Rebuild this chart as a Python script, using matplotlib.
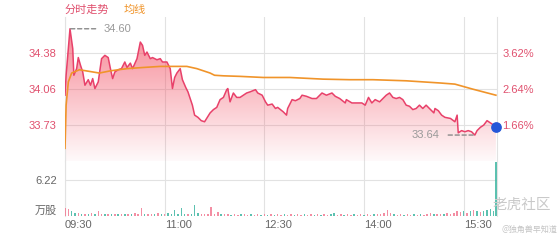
import numpy as np
import matplotlib
matplotlib.use("Agg")
import matplotlib.pyplot as plt

plt.rcParams['font.family'] = ['Liberation Sans', 'Noto Sans CJK SC', 'DejaVu Sans']

# ---------------- data ----------------
prev_close = 33.18
pct_levels = [1.66, 2.64, 3.62]          # right-axis grid labels (%)
pct_range = [0.68, 4.60]                 # visible range (%)
x_tick_min = [0, 90, 180, 270, 360]
x_tick_labels = ["09:30", "11:00", "12:30", "14:00", "15:30"]
session_len = 390
vol_tick = 6.22
vol_top = 9.5

time_min = [0, 1, 4.5, 7, 8, 10.5, 12, 14, 16, 18, 21, 23, 25, 27, 30, 33, 36, 39, 41, 43,
            45, 48, 51, 54, 56, 59, 61, 65, 68, 70, 72, 74, 77, 79, 83, 86, 88, 92, 95, 97,
            99, 101, 104, 106, 109, 111, 113, 115, 117, 120, 123, 126, 131, 134, 137, 140, 143, 146, 147, 149,
            152, 155, 158, 161, 164, 167, 172, 174, 178, 181, 183, 187, 190, 192, 197, 200, 201, 205, 208, 212,
            214, 218, 223, 227, 232, 236, 241, 244, 248, 253, 254, 259, 263, 268, 271, 274, 277, 280, 284, 287,
            290, 293, 296, 299, 302, 305, 308, 311, 314, 317, 320, 323, 326, 330, 333, 334, 337, 340, 343, 348,
            352, 354, 355, 358, 361, 364, 367, 370, 372, 375, 378, 381, 384, 387, 389]
price = [34.00, 34.18, 34.60, 34.42, 34.18, 34.24, 34.34, 34.27, 34.21, 34.09, 34.14, 34.09, 34.15, 34.06, 34.12, 34.33, 34.36, 34.34, 34.24, 34.15,
         34.21, 34.23, 34.24, 34.30, 34.25, 34.29, 34.24, 34.33, 34.48, 34.45, 34.36, 34.39, 34.33, 34.34, 34.32, 34.33, 34.30, 34.30, 34.24, 34.06,
         34.16, 34.20, 34.24, 34.14, 34.07, 34.03, 33.97, 33.91, 33.82, 33.80, 33.77, 33.76, 33.84, 33.87, 33.89, 33.96, 33.98, 34.05, 34.06, 33.94,
         34.02, 33.98, 33.98, 34.00, 34.02, 34.03, 34.05, 34.02, 34.00, 33.94, 33.91, 33.92, 33.88, 33.89, 33.85, 33.82, 33.88, 33.96, 33.95, 33.97,
         34.00, 33.99, 33.97, 33.97, 34.02, 34.00, 34.02, 33.99, 33.97, 33.93, 33.96, 33.93, 33.93, 33.93, 33.91, 33.98, 33.93, 33.96, 33.94, 33.97,
         34.00, 34.02, 33.98, 33.97, 33.98, 33.96, 33.91, 33.90, 33.87, 33.88, 33.91, 33.88, 33.91, 33.87, 33.84, 33.88, 33.86, 33.82, 33.80, 33.79,
         33.76, 33.82, 33.66, 33.68, 33.67, 33.68, 33.67, 33.64, 33.68, 33.71, 33.73, 33.77, 33.75, 33.73, 33.71]

avg_min = [0, 1, 3, 6, 13, 25, 31, 41, 56, 70, 86, 110, 119, 122, 131, 135, 143, 158, 179, 203,
           233, 257, 278, 308, 339, 352, 368, 389]
avg_price = [33.52, 33.91, 34.12, 34.20, 34.23, 34.21, 34.20, 34.22, 34.24, 34.25, 34.26, 34.26, 34.24, 34.23, 34.20, 34.18, 34.175, 34.17, 34.16, 34.16,
             34.145, 34.14, 34.14, 34.13, 34.11, 34.10, 34.055, 34.00]

vol_min = list(range(0, 390, 3)) + [389]
volume = [1.4, 1.2, 0.9, 0.6, 0.5, 0.4, 0.3, 0.4, 0.5, 0.3,
          0.9, 0.4, 0.3, 0.3, 0.4, 0.3, 0.3, 0.4, 0.3, 0.4,
          0.3, 0.5, 0.4, 1.4, 0.4, 0.3, 0.4, 0.3, 0.5, 0.4,
          0.3, 0.6, 0.4, 1.0, 0.4, 1.3, 0.4, 0.3, 0.4, 1.9,
          0.5, 0.3, 0.4, 0.3, 1.6, 0.4, 0.7, 0.3, 0.3, 0.4,
          0.2, 0.3, 0.2, 0.3, 0.4, 0.2, 0.3, 0.2, 0.3, 0.2,
          0.3, 0.2, 0.3, 0.2, 0.3, 0.2, 0.3, 0.2, 0.3, 0.2,
          0.3, 0.2, 0.3, 0.2, 0.3, 0.2, 0.3, 0.2, 0.3, 0.2,
          0.3, 0.5, 0.2, 0.3, 0.2, 0.3, 0.2, 0.3, 0.2, 0.3,
          0.2, 0.3, 0.2, 0.3, 0.4, 0.3, 0.5, 1.0, 0.6, 0.3,
          0.2, 0.3, 0.2, 0.3, 0.2, 0.3, 0.2, 0.3, 0.2, 0.3,
          0.5, 0.3, 0.4, 0.3, 0.4, 0.5, 0.4, 0.6, 0.8, 0.7,
          0.8, 0.6, 0.9, 1.0, 0.8, 0.7, 0.9, 1.1, 1.2, 0.9,
          9.35]
vol_up = [1, 1, 0, 0, 1, 0, 1, 0, 1, 0,
          1, 1, 0, 1, 0, 1, 0, 1, 0, 1,
          0, 1, 1, 1, 0, 1, 1, 0, 1, 0,
          1, 0, 0, 0, 0, 0, 0, 1, 0, 0,
          0, 1, 1, 1, 1, 1, 1, 0, 1, 1,
          0, 1, 1, 0, 1, 1, 0, 1, 1, 0,
          1, 0, 1, 0, 1, 1, 0, 1, 1, 0,
          1, 1, 0, 1, 1, 0, 1, 0, 1, 1,
          0, 0, 1, 1, 0, 1, 1, 0, 1, 1,
          0, 1, 1, 0, 1, 1, 1, 1, 1, 0,
          1, 1, 0, 1, 1, 0, 1, 0, 1, 1,
          1, 0, 1, 1, 0, 1, 1, 1, 1, 1,
          0, 1, 0, 1, 0, 1, 0, 0, 0, 0,
          0]

# ---------------- style ----------------
W, H = 560, 240
RED = "#e8416a"
PINK_TXT = "#e0506e"
ORANGE = "#f0942a"
GRID = "#e2e2e2"
GRAY_TXT = "#666666"
UP = "#f27a93"
DOWN = "#3fb6a2"

price_levels = [prev_close * (1 + p / 100) for p in pct_levels]
ylo, yhi = [prev_close * (1 + p / 100) for p in pct_range]

fig = plt.figure(figsize=(W / 100, H / 100), dpi=100)
fig.patch.set_facecolor("white")

def px_rect(l, t, r, b):
    return [l / W, 1 - b / H, (r - l) / W, (b - t) / H]

ax = fig.add_axes(px_rect(65, 17, 497, 161))
axv = fig.add_axes(px_rect(65, 161, 497, 216))

for a in (ax, axv):
    a.set_xlim(0, session_len)
    for s in ("top", "bottom"):
        a.spines[s].set_visible(False)
    a.spines["left"].set_color(GRID)
    a.spines["right"].set_color(GRID)
    a.spines["left"].set_linewidth(0.8)
    a.spines["right"].set_linewidth(0.8)
    a.set_xticks(x_tick_min)
    a.tick_params(length=0)
    a.grid(True, color=GRID, linewidth=0.8)
    a.set_axisbelow(True)

# ---- price panel ----
ax.set_ylim(ylo, yhi)
ax.set_yticks(price_levels)
ax.set_yticklabels([f"{p:.2f}" for p in price_levels], color=PINK_TXT, fontsize=8)
ax.tick_params(axis="y", pad=6)
ax.set_xticklabels([])

# gradient fill under price line
poly = ax.fill_between(time_min, price, ylo, color="none", linewidth=0)
grad = np.zeros((256, 1, 4))
grad[:, 0, 0] = 0.95
grad[:, 0, 1] = 0.28
grad[:, 0, 2] = 0.36
grad[:, 0, 3] = np.linspace(0.03, 0.70, 256)
img = ax.imshow(grad, extent=[0, session_len, ylo, yhi], aspect="auto",
                origin="lower", zorder=1, interpolation="bilinear")
img.set_clip_path(poly.get_paths()[0], transform=ax.transData)

ax.plot(time_min, price, color=RED, linewidth=1.1, zorder=3)
ax.plot(avg_min, avg_price, color=ORANGE, linewidth=1.2, zorder=4)
ax.scatter([time_min[-1]], [price[-1]], s=45, color="#2456d8", zorder=6, clip_on=False)

# max / min annotations
imax = int(np.argmax(price))
imin = int(np.argmin(price))
ax.annotate(f"{price[imax]:.2f}", xy=(time_min[imax], price[imax]), xytext=(34, 0),
            textcoords="offset pixels", ha="left", va="center", color="#999999", fontsize=8,
            arrowprops=dict(arrowstyle="-", linestyle=(0, (3, 2)), color="#8a8a8a", lw=1,
                            shrinkA=4, shrinkB=0), zorder=7)
ax.annotate(f"{price[imin]:.2f}", xy=(time_min[imin], price[imin]), xytext=(-35, 0),
            textcoords="offset pixels", ha="right", va="center", color="#999999", fontsize=8,
            arrowprops=dict(arrowstyle="-", linestyle=(0, (3, 2)), color="#8a8a8a", lw=1,
                            shrinkA=4, shrinkB=1), zorder=7)

# right percent axis
axr = ax.twinx()
axr.set_ylim(ylo, yhi)
axr.set_yticks(price_levels)
axr.set_yticklabels([f"{p:.2f}%" for p in pct_levels], color=PINK_TXT, fontsize=8)
axr.tick_params(length=0, pad=4)
for s in axr.spines.values():
    s.set_visible(False)

# ---- volume panel ----
axv.set_ylim(0, vol_top)
axv.set_yticks([vol_tick])
axv.set_yticklabels([f"{vol_tick:.2f}"], color=GRAY_TXT, fontsize=8)
axv.tick_params(axis="y", pad=6)
colors = [UP if u else DOWN for u in vol_up]
axv.bar(vol_min, volume, width=1.3, color=colors, align="center", zorder=3, alpha=0.85)
axv.set_xticklabels(x_tick_labels, color=GRAY_TXT, fontsize=8)
for lab in axv.get_xticklabels():
    lab.set_horizontalalignment("left")
axv.tick_params(axis="x", pad=3)
axv.annotate("万股", xy=(0, 0), xycoords="axes fraction", xytext=(-8, 5),
             textcoords="offset pixels", ha="right", va="center", color=GRAY_TXT,
             fontsize=8, family=["Noto Sans CJK SC"])

# ---- header / legend ----
fig.text(65 / W, 1 - 10 / H, "分时走势", color=PINK_TXT, fontsize=8, ha="left", va="center",
         family=["Noto Sans CJK SC"])
fig.text(124 / W, 1 - 10 / H, "均线", color=ORANGE, fontsize=8, ha="left", va="center",
         family=["Noto Sans CJK SC"])

# ---- watermark ----
fig.text(493 / W, 1 - 205 / H, "老虎社区", color="#c9c9c9", fontsize=10.5, ha="left", va="center",
         family=["Noto Sans CJK SC"])
fig.text(557 / W, 1 - 229 / H, "@独角兽早知道", color="#c4c4c4", fontsize=5.8, ha="right", va="center",
         family=["Noto Sans CJK SC", "DejaVu Sans"])

fig.savefig("out.png", dpi=100, facecolor="white")
